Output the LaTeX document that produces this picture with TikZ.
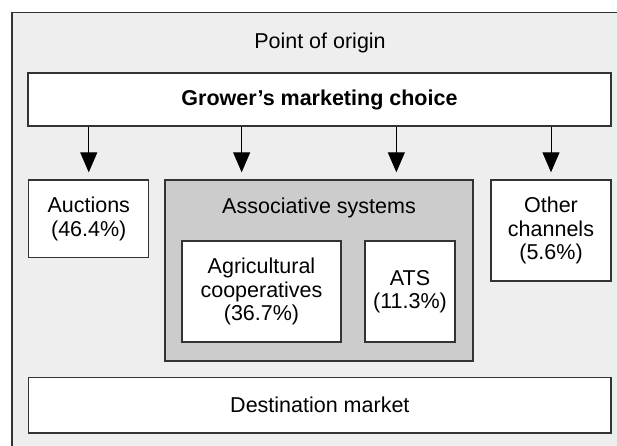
\documentclass[tikz,border=0pt]{standalone}
\usepackage{fontspec}
\setmainfont{Liberation Sans}
\usetikzlibrary{arrows.meta,calc}

\definecolor{framebg}{HTML}{EEEEEE}
\definecolor{assocbg}{HTML}{CCCCCC}
\definecolor{edgegray}{HTML}{333333}

\tikzset{
  chbox/.style={draw=edgegray,line width=1.4pt,fill=white,inner sep=0pt,align=center},
  chtext/.style={font=\fontsize{21.5}{23.4}\selectfont},
  chdown/.style={-{Triangle[length=20pt,width=17pt]},line width=1pt,shorten >=7pt}
}

\begin{document}
\begin{tikzpicture}[x=1pt,y=-1pt,every node/.style={chtext}]
  \useasboundingbox (0,0) rectangle (617,446);
  % outer frame
  \fill[framebg] (12,12.5) rectangle (617,446);
  \draw[edgegray,line width=1.6pt] (12,446) -- (12,12.5) -- (617,12.5);
  \node (origin) at (320,43) {Point of origin};

  \node[chbox,minimum width=583pt,minimum height=53pt] (grower) at (319.5,99.5) {\bfseries Grower’s marketing choice};

  \node[chbox,minimum width=120pt,minimum height=77.7pt] (auct) at (88.75,218.9) {Auctions\\(46.4\%)};
  \node[chbox,fill=assocbg,minimum width=308pt,minimum height=181pt] (assoc) at (319,270.5) {};
  \node (assoctitle) at (319,208) {Associative systems};
  \node[chbox,minimum width=159pt,minimum height=101pt] (agri) at (261.5,291.5) {Agricultural\\cooperatives\\(36.7\%)};
  \node[chbox,minimum width=90pt,minimum height=101pt] (ats) at (410,291.5) {ATS\\(11.3\%)};
  \node[chbox,minimum width=120pt,minimum height=101pt] (other) at (551,230.5) {Other\\channels\\(5.6\%)};

  \node[chbox,minimum width=582.3pt,minimum height=55.3pt] (dest) at (319.85,405.3) {Destination market};

  % choices
  \coordinate (assocl) at ($(assoc.north west)!0.25!(assoc.north east)$);
  \coordinate (assocr) at ($(assoc.north west)!0.75!(assoc.north east)$);
  \draw[chdown] (grower.south -| auct) -- (auct);
  \draw[chdown] (grower.south -| assocl) -- (assocl);
  \draw[chdown] (grower.south -| assocr) -- (assocr);
  \draw[chdown] (grower.south -| other) -- (other);
\end{tikzpicture}
\end{document}
